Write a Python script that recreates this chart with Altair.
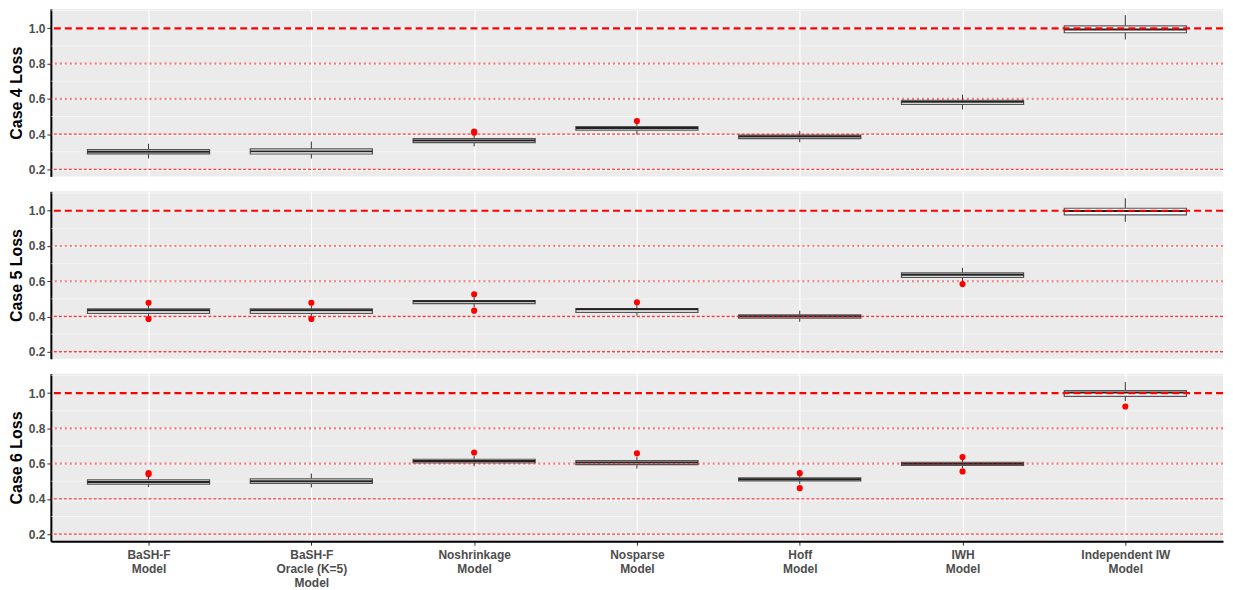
import json
import altair as alt
import pandas as pd

models = ["BaSH-F Model", "BaSH-F Oracle (K=5) Model", "Noshrinkage Model",
          "Nosparse Model", "Hoff Model", "IWH Model", "Independent IW Model"]
label_lines = [["BaSH-F", "Model"], ["BaSH-F", "Oracle (K=5)", "Model"],
               ["Noshrinkage", "Model"], ["Nosparse", "Model"], ["Hoff", "Model"],
               ["IWH", "Model"], ["Independent IW", "Model"]]
positions = [1, 2, 3, 4, 5, 6, 7]

# Case 4
c4_q1 = [0.288, 0.287, 0.352, 0.422, 0.374, 0.569, 0.975]
c4_med = [0.300, 0.302, 0.363, 0.435, 0.387, 0.583, 0.994]
c4_q3 = [0.312, 0.316, 0.374, 0.443, 0.394, 0.592, 1.014]
c4_wlo = [0.262, 0.262, 0.330, 0.398, 0.354, 0.540, 0.937]
c4_whi = [0.345, 0.358, 0.392, 0.458, 0.418, 0.624, 1.075]
c4_out_pos = [3, 3, 4]
c4_out_val = [0.408, 0.414, 0.474]

# Case 5
c5_q1 = [0.418, 0.418, 0.473, 0.423, 0.391, 0.622, 0.977]
c5_med = [0.435, 0.435, 0.486, 0.441, 0.401, 0.637, 0.998]
c5_q3 = [0.443, 0.443, 0.490, 0.445, 0.410, 0.648, 1.014]
c5_wlo = [0.402, 0.402, 0.452, 0.405, 0.370, 0.600, 0.937]
c5_whi = [0.462, 0.462, 0.510, 0.465, 0.433, 0.676, 1.071]
c5_out_pos = [1, 1, 2, 2, 3, 3, 4, 6]
c5_out_val = [0.478, 0.386, 0.478, 0.386, 0.526, 0.433, 0.481, 0.584]

# Case 6
c6_q1 = [0.484, 0.488, 0.604, 0.594, 0.502, 0.590, 0.982]
c6_med = [0.496, 0.500, 0.615, 0.606, 0.511, 0.600, 1.003]
c6_q3 = [0.508, 0.514, 0.625, 0.617, 0.519, 0.608, 1.015]
c6_wlo = [0.468, 0.465, 0.585, 0.572, 0.485, 0.575, 0.955]
c6_whi = [0.528, 0.544, 0.645, 0.640, 0.535, 0.625, 1.063]
c6_out_pos = [1, 1, 3, 4, 5, 5, 6, 6, 7]
c6_out_val = [0.540, 0.546, 0.663, 0.659, 0.546, 0.461, 0.637, 0.556, 0.924]

y_major = [0.2, 0.4, 0.6, 0.8, 1.0]
y_minor = [0.3, 0.5, 0.7, 0.9, 1.1]
ref_main = [1.0]
ref_soft = [0.8, 0.6]
ref_light = [0.4, 0.2]

FONT = "Liberation Sans"
xscale = alt.Scale(domain=[0.4, 7.6], nice=False, zero=False)
yscale = alt.Scale(domain=[0.16, 1.11], nice=False, zero=False)
label_js = json.dumps(label_lines)


def x_axis(bottom):
    if bottom:
        return alt.Axis(values=positions, title=None, labelExpr=f"{label_js}[datum.value - 1]",
                        labelFont=FONT, labelFontWeight="bold", labelColor="#4D4D4D",
                        labelFontSize=12, labelLineHeight=14, labelPadding=4,
                        domainColor="black", domainWidth=2, tickColor="#333333", tickSize=4,
                        grid=True, gridColor="white", gridWidth=1.1)
    return alt.Axis(values=positions, title=None, labels=False, ticks=False, domain=False,
                    grid=True, gridColor="white", gridWidth=1.1)


def y_axis(title):
    return alt.Axis(values=y_major, format=".1f", title=title, titleFont=FONT,
                    titleFontSize=16, titleFontWeight="bold", titleColor="black", titlePadding=4,
                    labelFont=FONT, labelFontWeight="bold", labelColor="#4D4D4D", labelFontSize=12,
                    labelPadding=2, domainColor="black", domainWidth=2, tickColor="#333333",
                    tickSize=4, grid=True, gridColor="white", gridWidth=1.1)


def panel(title, q1, med, q3, wlo, whi, out_pos, out_val, bottom):
    xa = x_axis(bottom)
    ya = y_axis(title)
    df = pd.DataFrame({"model": models, "pos": positions, "q1": q1, "med": med,
                       "q3": q3, "wlo": wlo, "whi": whi})
    base = alt.Chart(df).transform_calculate(x1="datum.pos - 0.375", x2="datum.pos + 0.375")
    minor = alt.Chart(pd.DataFrame({"v": y_minor})).mark_rule(color="white", strokeWidth=0.5).encode(
        y=alt.Y("v:Q", scale=yscale, axis=ya))
    whisk = base.mark_rule(color="#333333", strokeWidth=1).encode(
        x=alt.X("pos:Q", scale=xscale, axis=xa), y=alt.Y("wlo:Q", scale=yscale, axis=ya), y2="whi:Q")
    box = base.mark_rect(fill="white", stroke="#555555", strokeWidth=1.2).encode(
        x=alt.X("x1:Q", scale=xscale, axis=xa), x2="x2:Q",
        y=alt.Y("q1:Q", scale=yscale, axis=ya), y2="q3:Q")
    medl = base.mark_rule(color="#222222", strokeWidth=2).encode(
        x=alt.X("x1:Q", scale=xscale, axis=xa), x2="x2:Q", y=alt.Y("med:Q", scale=yscale, axis=ya))
    outs = alt.Chart(pd.DataFrame({"pos": out_pos, "val": out_val})).mark_circle(
        color="red", size=38, opacity=1).encode(
        x=alt.X("pos:Q", scale=xscale, axis=xa), y=alt.Y("val:Q", scale=yscale, axis=ya))
    r1 = alt.Chart(pd.DataFrame({"v": ref_main})).mark_rule(
        color="red", strokeWidth=2.2, strokeDash=[7, 4]).encode(y=alt.Y("v:Q", scale=yscale, axis=ya))
    r2 = alt.Chart(pd.DataFrame({"v": ref_soft})).mark_rule(
        color="red", opacity=0.5, strokeWidth=2.2, strokeDash=[2, 3]).encode(
        y=alt.Y("v:Q", scale=yscale, axis=ya))
    r3 = alt.Chart(pd.DataFrame({"v": ref_light})).mark_rule(
        color="red", opacity=0.75, strokeWidth=1.3, strokeDash=[3, 2]).encode(
        y=alt.Y("v:Q", scale=yscale, axis=ya))
    return alt.layer(minor, whisk, box, medl, outs, r1, r2, r3).properties(width=1176, height=168)


chart = alt.vconcat(
    panel("Case 4 Loss", c4_q1, c4_med, c4_q3, c4_wlo, c4_whi, c4_out_pos, c4_out_val, False),
    panel("Case 5 Loss", c5_q1, c5_med, c5_q3, c5_wlo, c5_whi, c5_out_pos, c5_out_val, False),
    panel("Case 6 Loss", c6_q1, c6_med, c6_q3, c6_wlo, c6_whi, c6_out_pos, c6_out_val, True),
    spacing=15,
).properties(padding={"left": 0, "top": 0, "right": 0, "bottom": 0}).configure_view(
    fill="#EBEBEB", stroke=None)

chart.save("out.html", embed_options={"renderer": "svg", "actions": False})
